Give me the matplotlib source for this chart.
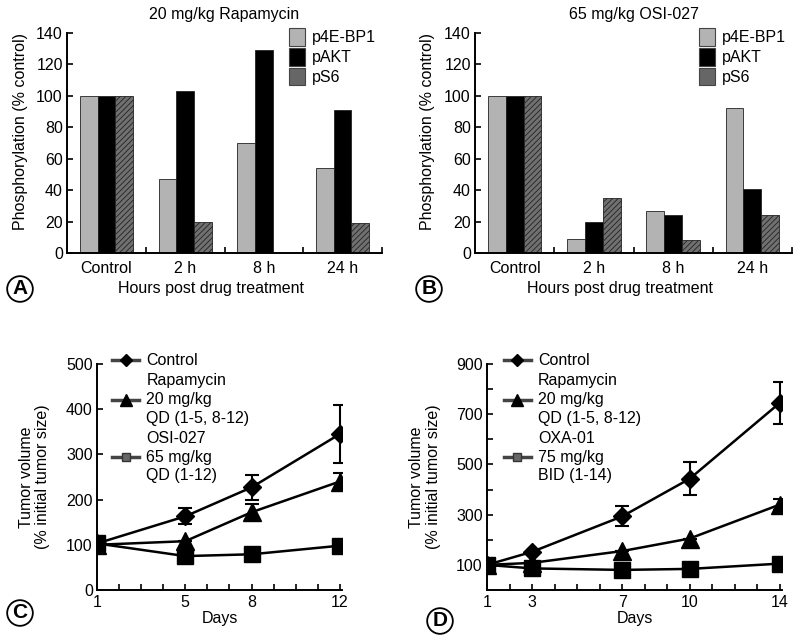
import numpy as np
import matplotlib as mpl
mpl.use('Agg')
import matplotlib.pyplot as plt
from matplotlib.lines import Line2D
from matplotlib.patches import Patch

plt.rcParams['font.family'] = ['Liberation Sans', 'DejaVu Sans']
plt.rcParams['font.size'] = 11.5
plt.rcParams['hatch.linewidth'] = 0.6

# --- data: phosphorylation (% control) ---
timepoints = ['Control', '2 h', '8 h', '24 h']
proteins = ['p4E-BP1', 'pAKT', 'pS6']
rapa_p4ebp1 = [100, 47, 70, 54]
rapa_pakt = [100, 103, 129, 91]
rapa_ps6 = [100, 20, 0, 19]
osi_p4ebp1 = [100, 9, 27, 92]
osi_pakt = [100, 20, 24, 41]
osi_ps6 = [100, 35, 8, 24]

# --- data: tumor volume (% initial tumor size) ---
days_c = [1, 5, 8, 12]
ctrl_c = [103, 163, 227, 345]
ctrl_c_err = [0, 18, 28, 65]
rapa_c = [100, 108, 172, 240]
rapa_c_err = [0, 0, 18, 19]
osi_c = [103, 75, 79, 98]

days_d = [1, 3, 7, 10, 14]
ctrl_d = [100, 152, 293, 443, 745]
ctrl_d_err = [0, 0, 40, 65, 85]
rapa_d = [100, 108, 155, 205, 340]
rapa_d_err = [0, 0, 0, 0, 22]
oxa_d = [100, 86, 80, 84, 105]

bar_colors = ['#b3b3b3', '#000000', '#707070']
bar_hatch = [None, None, '//////']

fig = plt.figure(figsize=(8, 6.42), dpi=100)
W, H = 800.0, 642.0


def px_axes(l, t, r, b):
    return fig.add_axes([l / W, 1 - b / H, (r - l) / W, (b - t) / H])


def style_axes(ax):
    for s in ['top', 'right']:
        ax.spines[s].set_visible(False)
    for s in ['left', 'bottom']:
        ax.spines[s].set_linewidth(1.4)
    ax.tick_params(which='both', direction='in', width=1.2, length=4)
    ax.tick_params(axis='y', pad=3)


def circled(x, y, letter):
    fig.text(x / W, 1 - y / H, letter, ha='center', va='center', fontsize=15,
             fontweight='bold',
             bbox=dict(boxstyle='circle,pad=0.16', fc='white', ec='black', lw=1.3))


def bar_panel(ax, title, series):
    x = np.arange(len(timepoints))
    w = 0.225
    for i, vals in enumerate(series):
        ax.bar(x + (i - 1) * w, vals, w, color=bar_colors[i], hatch=bar_hatch[i],
               edgecolor='#222222', linewidth=0.6, label=proteins[i], zorder=2)
    ax.set_xlim(-0.5, 3.5)
    ax.set_ylim(0, 140)
    ax.set_yticks(range(0, 141, 20))
    ax.set_xticks(x)
    ax.set_xticklabels(timepoints)
    ax.set_xticks(x + 0.5, minor=True)
    ax.tick_params(axis='x', which='major', length=0, pad=6)
    ax.set_title(title, fontsize=11.5, pad=10)
    ax.set_xlabel('Hours post drug treatment')
    ax.xaxis.set_label_coords(0.457, -0.125)
    ax.set_ylabel('Phosphorylation (% control)')
    ax.yaxis.set_label_coords(-0.125, 0.55)
    handles = [Patch(facecolor=c, edgecolor='#444444', linewidth=0.8) for c in ['#b3b3b3', '#000000', '#666666']]
    ax.legend(handles, proteins, loc='upper right', bbox_to_anchor=(1.0, 1.05), frameon=False,
              handlelength=1.0, handleheight=1.3, handletextpad=0.4, labelspacing=0.15,
              borderaxespad=0)


def line_panel(ax, days, ctrl, ctrl_err, rapa, rapa_err, other, labels):
    ax.errorbar(days, ctrl, yerr=ctrl_err, color='black', lw=1.8, marker='D', ms=9.5,
                capsize=5, elinewidth=1.5, capthick=1.5, zorder=3)
    ax.errorbar(days, rapa, yerr=rapa_err, color='black', lw=1.8, marker='^', ms=13,
                capsize=5, elinewidth=1.5, capthick=1.5, zorder=3)
    ax.plot(days, other, color='black', lw=1.8, marker='s', ms=11, zorder=4)
    handles = [
        Line2D([], [], color='#444444', lw=2.5, marker='D', ms=6.5, mfc='black', mec='black'),
        Line2D([], [], color='#444444', lw=2.5, marker='^', ms=8.5, mfc='black', mec='black'),
        Line2D([], [], color='#444444', lw=2.5, marker='s', ms=6, mfc='#666666', mec='#333333'),
    ]
    leg = ax.legend(handles, labels, loc='upper left', bbox_to_anchor=(0.035, 1.075), frameon=False,
                    handlelength=1.7, handletextpad=0.45, labelspacing=0.3, borderaxespad=0)
    for t in leg.get_texts():
        t.set_linespacing(1.32)
    ax.set_xlabel('Days', labelpad=1)
    ax.set_ylabel('Tumor volume\n(% initial tumor size)', linespacing=1.15)


# A
axA = px_axes(67, 33, 382, 253)
style_axes(axA)
bar_panel(axA, '20 mg/kg Rapamycin', [rapa_p4ebp1, rapa_pakt, rapa_ps6])

# B
axB = px_axes(475, 33, 792, 253)
style_axes(axB)
bar_panel(axB, '65 mg/kg OSI-027', [osi_p4ebp1, osi_pakt, osi_ps6])

# C
axC = px_axes(97, 364, 342, 590)
style_axes(axC)
line_panel(axC, days_c, ctrl_c, ctrl_c_err, rapa_c, rapa_c_err, osi_c,
           ['Control', 'Rapamycin\n20 mg/kg\nQD (1-5, 8-12)', 'OSI-027\n65 mg/kg\nQD (1-12)'])
axC.set_xlim(1, 12.1)
axC.set_ylim(0, 500)
axC.set_xticks(range(1, 13))
axC.set_xticklabels([str(d) if d in days_c else '' for d in range(1, 13)])
axC.set_yticks(range(0, 501, 100))
axC.yaxis.set_label_coords(-0.19, 0.5)

# D
axD = px_axes(487, 364, 782, 590)
style_axes(axD)
line_panel(axD, days_d, ctrl_d, ctrl_d_err, rapa_d, rapa_d_err, oxa_d,
           ['Control', 'Rapamycin\n20 mg/kg\nQD (1-5, 8-12)', 'OXA-01\n75 mg/kg\nBID (1-14)'])
axD.set_xlim(1, 14.1)
axD.set_ylim(0, 900)
axD.set_xticks(range(1, 15))
axD.set_xticklabels([str(d) if d in days_d else '' for d in range(1, 15)])
axD.set_yticks(range(100, 901, 100))
axD.set_yticklabels([str(v) if v % 200 == 100 else '' for v in range(100, 901, 100)])
axD.yaxis.set_label_coords(-0.155, 0.5)

circled(20, 289, 'A')
circled(429, 289, 'B')
circled(20, 613, 'C')
circled(440, 621, 'D')

fig.savefig('out.png', dpi=100)
